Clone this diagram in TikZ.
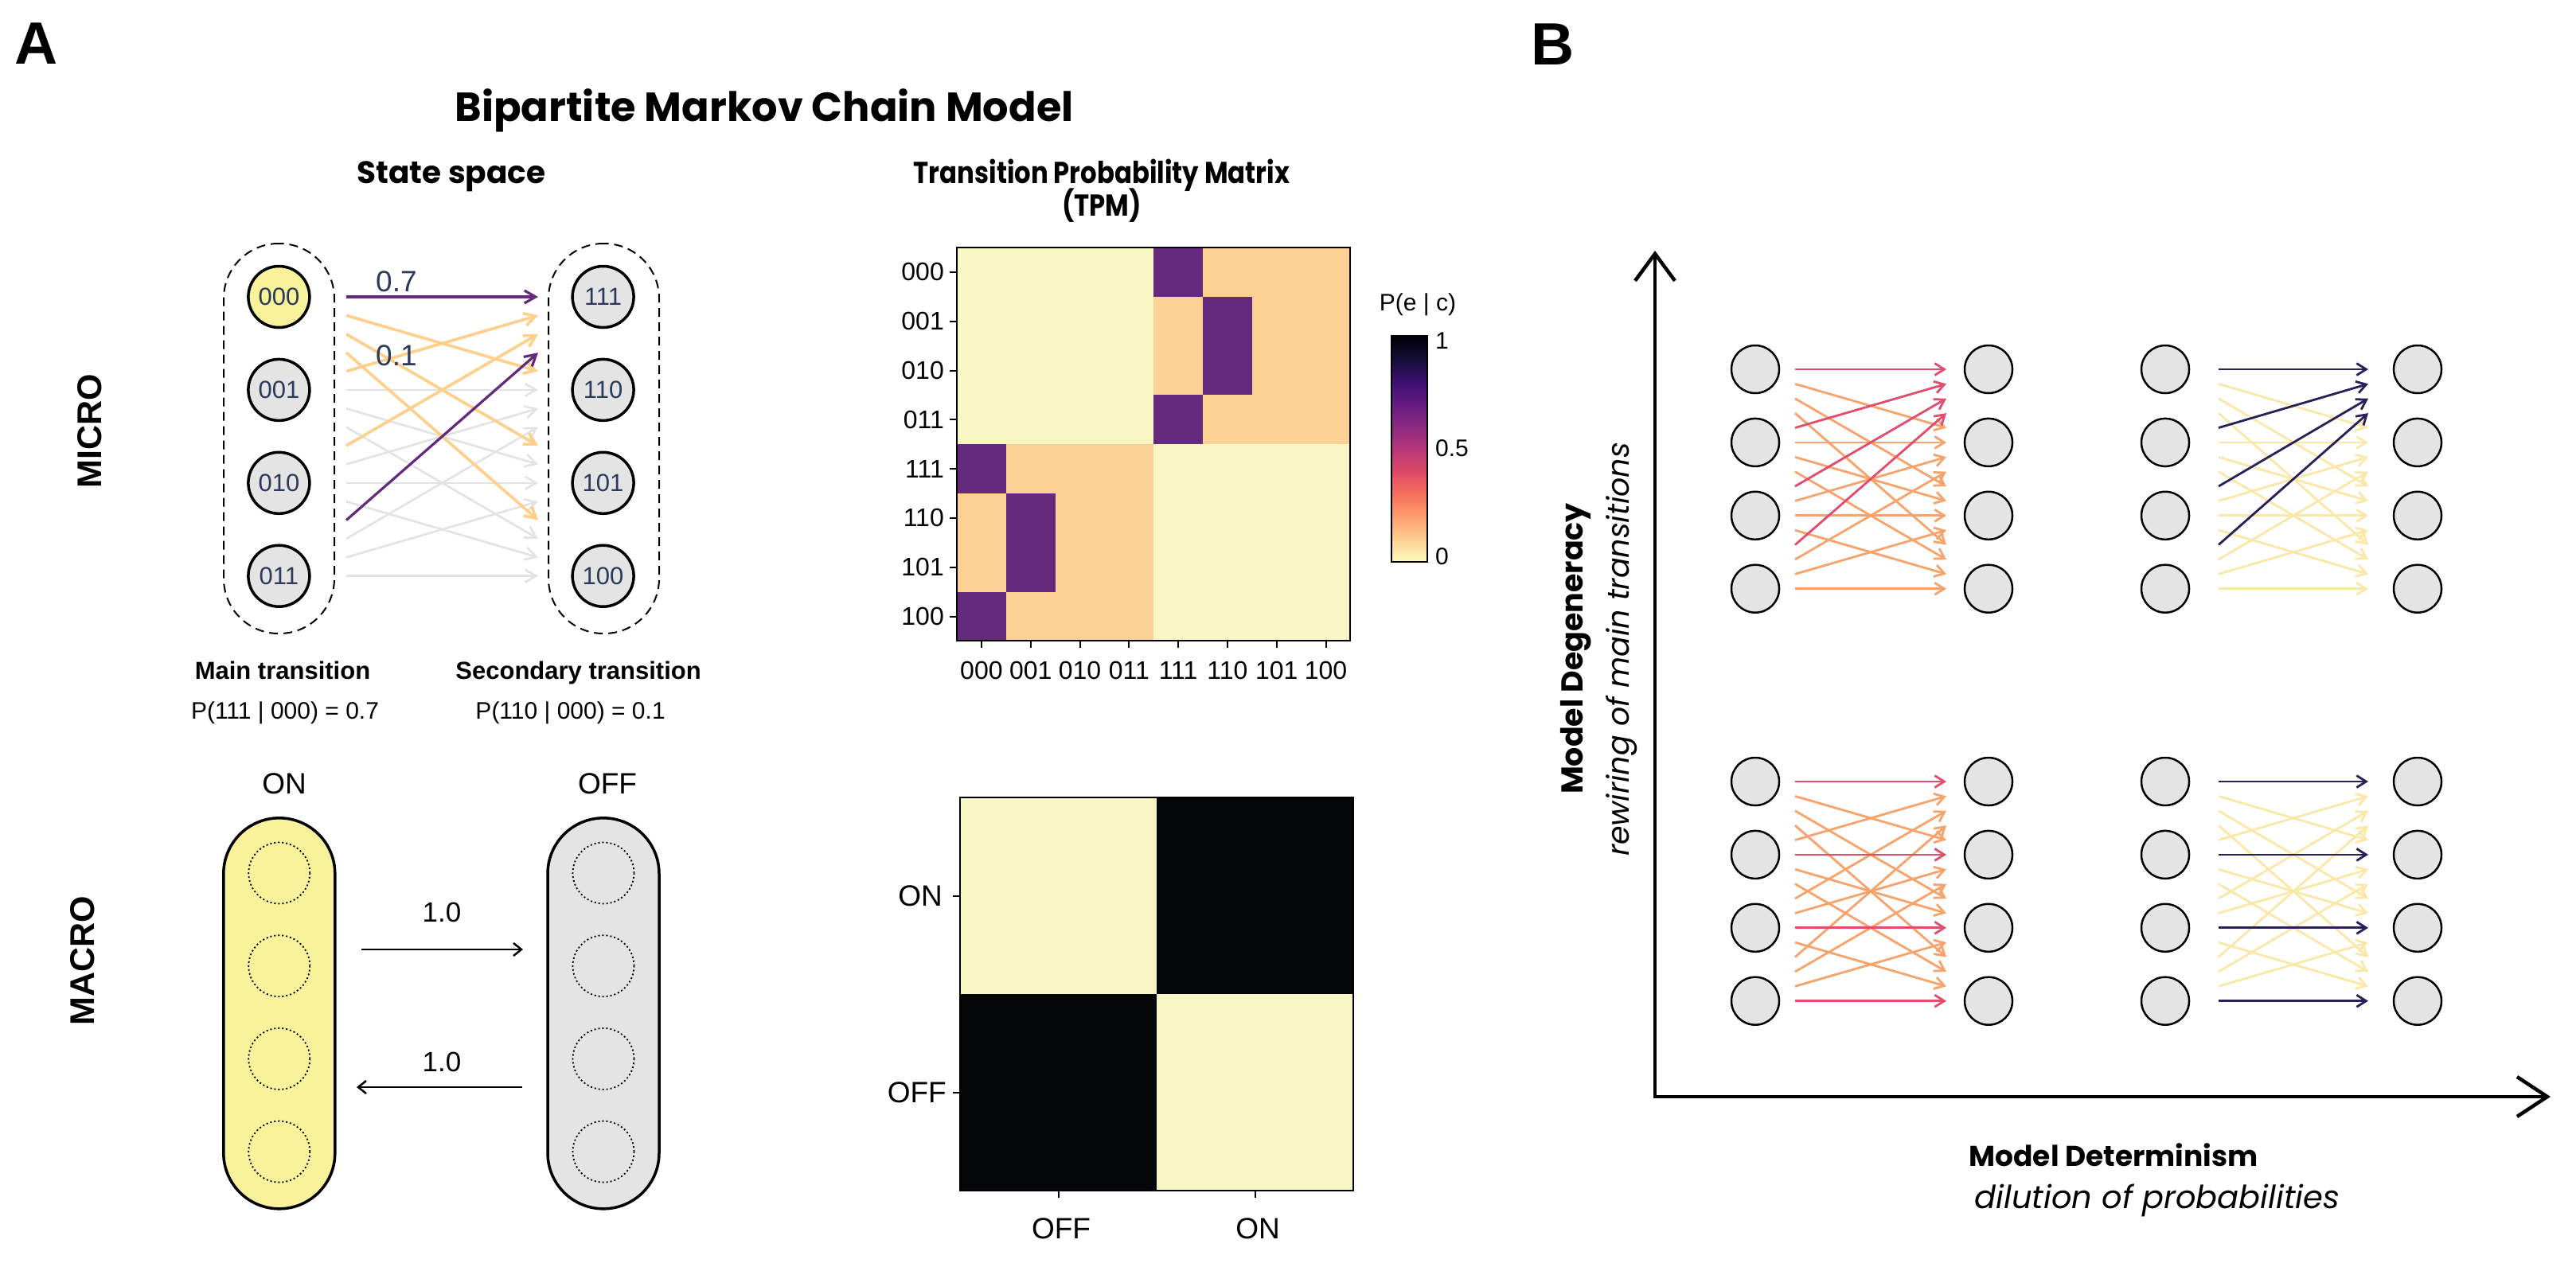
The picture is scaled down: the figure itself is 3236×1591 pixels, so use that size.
\documentclass[tikz,border=0pt]{standalone}
\usepackage{fontspec}
\setmainfont{Liberation Sans}
\newfontfamily\pop{Poppins}
\usetikzlibrary{arrows.meta}
\newcommand\fsz[1]{\fontsize{#1}{#1}\selectfont}
\definecolor{nodegrey}{HTML}{E4E4E4}
\definecolor{onyellow}{HTML}{F8F29A}
\definecolor{navytext}{HTML}{2B3A5A}
\definecolor{apurple}{HTML}{652A7B}
\definecolor{aorange}{HTML}{FFCF8C}
\definecolor{agrey}{HTML}{E3E3E3}
\definecolor{bred}{HTML}{E14D6C}
\definecolor{borange}{HTML}{F8A26C}
\definecolor{bnavy}{HTML}{2A1F58}
\definecolor{byellow}{HTML}{FBE8A8}
\definecolor{mzero}{HTML}{F8F7C3}
\definecolor{mpeach}{HTML}{FDD193}
\definecolor{mpurple}{HTML}{652A7B}
\definecolor{mblack}{HTML}{060709}
\definecolor{cm0}{HTML}{000004}
\definecolor{cm1}{HTML}{140E36}
\definecolor{cm2}{HTML}{3B0F70}
\definecolor{cm3}{HTML}{641A80}
\definecolor{cm4}{HTML}{8C2981}
\definecolor{cm5}{HTML}{B73779}
\definecolor{cm6}{HTML}{DE4968}
\definecolor{cm7}{HTML}{F7705C}
\definecolor{cm8}{HTML}{FE9F6D}
\definecolor{cm9}{HTML}{FECF92}
\definecolor{cm10}{HTML}{FCFDBF}
\begin{document}
\begin{tikzpicture}[x=1pt,y=-1pt,
  micronode/.style={circle,draw=black,line width=3.5pt,minimum size=77pt,inner sep=0pt,text=navytext,font=\fsz{31}},
  bnode/.style={circle,draw=black,line width=2.5pt,fill=nodegrey,minimum size=60pt,inner sep=0pt},
  dcapsule/.style={draw=black,line width=2pt,dash pattern=on 11pt off 7pt,rounded corners=69pt,minimum width=139pt,minimum height=490pt,inner sep=0pt},
  mcapsule/.style={draw=black,line width=3.5pt,rounded corners=70pt,minimum width=140pt,minimum height=491pt,inner sep=0pt},
  dotc/.style={circle,draw=black,line width=1.8pt,dash pattern=on 2pt off 3pt,minimum size=77pt,inner sep=0pt},
  aarrow/.style={line width=3.2pt,-{Straight Barb[length=14pt,width=16pt]}},
  barrow/.style={line width=2.8pt,-{Straight Barb[length=12pt,width=15pt]}},
  marrow/.style={line width=2.5pt,-{Straight Barb[length=10pt,width=16pt]}},
  tick/.style={line width=2pt},
  txt/.style={inner sep=0pt}
]
\useasboundingbox[fill=white] (0,0) rectangle (3236,1591);

% ---------- panel labels and titles ----------
\node[txt,anchor=base,font=\bfseries\fsz{75}] (labA) at (45.5,80.7) {A};
\node[txt,anchor=base,font=\bfseries\fsz{75}] (labB) at (1950.5,81) {B};
\node[txt,anchor=base,font=\pop\bfseries\fsz{51}] (title) at (960,152) {Bipartite Markov Chain Model};
\node[txt,anchor=base,font=\pop\bfseries\fsz{39}] (ssTitle) at (567,230) {State space};
\node[txt,anchor=base,font=\pop\bfseries\fsz{38}] (tpmTitle) at (1384,230) {\scalebox{0.85}[1]{Transition Probability Matrix}};
\node[txt,anchor=base,font=\pop\bfseries\fsz{38}] (tpmTitle2) at (1384,271) {\scalebox{0.85}[1]{(TPM)}};
\node[txt,rotate=90,font=\bfseries\fsz{43}] (micro) at (113,542) {MICRO};
\node[txt,rotate=90,font=\bfseries\fsz{43}] (macro) at (104,1207) {MACRO};

% ---------- micro state space ----------
\node[dcapsule] (capL) at (350.5,551) {};
\node[dcapsule] (capR) at (758.5,551) {};
\foreach \k/\lab/\fc in {0/000/onyellow,1/001/nodegrey,2/010/nodegrey,3/011/nodegrey}
  \node[micronode,fill=\fc] (L\lab) at (350.4,{373+116.9*\k}) {\lab};
\foreach \k/\lab in {0/111,1/110,2/101,3/100}
  \node[micronode,fill=nodegrey] (R\lab) at (757.6,{373+116.9*\k}) {\lab};
\foreach \s in {0,...,15}{
  \coordinate (as\s) at (435,{373+23.38*\s});
  \coordinate (ae\s) at (676,{373+23.38*\s});
}
\foreach \s/\e in {5/5,6/9,7/13,9/6,10/10,11/14,13/7,14/11,15/15}
  \draw[aarrow,agrey,line width=2.6pt] (as\s) -- (ae\e);
\foreach \s/\e in {1/4,2/8,3/12,4/1,8/2}
  \draw[aarrow,aorange,line width=3.6pt] (as\s) -- (ae\e);
\foreach \s/\e in {0/0,12/3}
  \draw[aarrow,apurple] (as\s) -- (ae\e);
\node[txt,anchor=base west,text=navytext,font=\fsz{37}] (p07) at (472,366) {0.7};
\node[txt,anchor=base west,text=navytext,font=\fsz{37}] (p01) at (472,459.4) {0.1};
\node[txt,anchor=base,font=\bfseries\fsz{31}] (mainT) at (355,853) {Main transition};
\node[txt,anchor=base,font=\fsz{30}] (mainP) at (358,903) {P(111 | 000) = 0.7};
\node[txt,anchor=base,font=\bfseries\fsz{31}] (secT) at (726.6,853) {Secondary transition};
\node[txt,anchor=base,font=\fsz{30}] (secP) at (716.6,903) {P(110 | 000) = 0.1};

% ---------- macro state space ----------
\node[mcapsule,fill=onyellow] (onCap) at (350.8,1273.3) {};
\node[mcapsule,fill=nodegrey] (offCap) at (758,1273.3) {};
\foreach \k in {0,...,3}{
  \node[dotc] (onD\k) at (350.8,{1097+116.7*\k}) {};
  \node[dotc] (offD\k) at (758,{1097+116.7*\k}) {};
}
\node[txt,anchor=base,font=\fsz{37}] (onLab) at (357,997) {ON};
\node[txt,anchor=base,font=\fsz{37}] (offLab) at (763,997) {OFF};
\coordinate (m1s) at (454,1193);
\coordinate (m1e) at (657,1193);
\coordinate (m2s) at (656,1366);
\coordinate (m2e) at (448,1366);
\draw[marrow] (m1s) -- (m1e);
\draw[marrow] (m2s) -- (m2e);
\node[txt,anchor=base,font=\fsz{35}] (w1) at (555,1158) {1.0};
\node[txt,anchor=base,font=\fsz{35}] (w2) at (555,1346) {1.0};

% ---------- micro TPM ----------
\fill[mzero] (1202,311) rectangle (1696.4,805.4);
\fill[mpeach] (1449.2,311) rectangle (1696.4,558.2);
\fill[mpeach] (1202,558.2) rectangle (1449.2,805.4);
\foreach \r/\c in {0/4,1/5,2/5,3/4,4/0,5/1,6/1,7/0}
  \fill[mpurple] ({1202+61.8*\c},{311+61.8*\r}) rectangle ++(61.8,61.8);
\draw[line width=2pt] (1202,311) rectangle (1696.4,805.4);
\foreach \k/\lab in {0/000,1/001,2/010,3/011,4/111,5/110,6/101,7/100}{
  \draw[tick] (1193,{341.9+61.8*\k}) -- (1202,{341.9+61.8*\k});
  \node[txt,anchor=east,font=\fsz{32}] (ty\k) at (1186,{341.9+61.8*\k}) {\lab};
  \draw[tick] ({1232.9+61.8*\k},805.4) -- ({1232.9+61.8*\k},814.4);
  \node[txt,anchor=base,font=\fsz{32}] (tx\k) at ({1232.9+61.8*\k},853) {\lab};
}
% colorbar
\foreach \k in {0,...,9}{
  \pgfmathtruncatemacro\kk{\k+1}
  \shade[top color=cm\k,bottom color=cm\kk] (1748,{422+28.4*\k}) rectangle (1793,{422.6+28.4*(\k+1)});
}
\draw[line width=2.5pt] (1748,422) rectangle (1793,706);
\node[txt,anchor=base west,font=\fsz{30}] (cb1) at (1803,438) {1};
\node[txt,anchor=base west,font=\fsz{30}] (cb05) at (1803,573.6) {0.5};
\node[txt,anchor=base west,font=\fsz{30}] (cb0) at (1803,709) {0};
\node[txt,anchor=base,font=\fsz{30}] (cbT) at (1781,390.5) {P(e | c)};

% ---------- macro TPM ----------
\fill[mzero] (1206,1002) rectangle (1700,1496);
\fill[mblack] (1453,1002) rectangle (1700,1249);
\fill[mblack] (1206,1249) rectangle (1453,1496);
\draw[line width=1.5pt] (1206,1002) rectangle (1700,1496);
\draw[tick] (1197,1125.5) -- (1206,1125.5);
\draw[tick] (1197,1372.5) -- (1206,1372.5);
\draw[tick] (1329.5,1496) -- (1329.5,1505);
\draw[tick] (1576.5,1496) -- (1576.5,1505);
\node[txt,anchor=east,font=\fsz{37}] (myON) at (1184,1125.5) {ON};
\node[txt,anchor=east,font=\fsz{37}] (myOFF) at (1189,1372.5) {OFF};
\node[txt,anchor=base,font=\fsz{37}] (mxOFF) at (1333,1556) {OFF};
\node[txt,anchor=base,font=\fsz{37}] (mxON) at (1580,1556) {ON};

% ---------- panel B axes ----------
\coordinate (ytip) at (2079,315);
\coordinate (orig) at (2079,1378);
\coordinate (xtip) at (3204,1378);
\draw[line width=4.5pt,{Straight Barb[length=34pt,width=50pt]}-{Straight Barb[length=38pt,width=50pt]}] (ytip) -- (orig) -- (xtip);
\node[txt,rotate=90,anchor=base,font=\pop\bfseries\fsz{38}] (degT) at (1988,815) {Model Degeneracy};
\node[txt,rotate=90,anchor=base,font=\pop\itshape\fsz{38}] (degS) at (2046,816) {rewiring of main transitions};
\node[txt,anchor=base,font=\pop\bfseries\fsz{36}] (detT) at (2655,1465) {Model Determinism};
\node[txt,anchor=base,font=\pop\itshape\fsz{40}] (detS) at (2710,1518) {dilution of probabilities};

% ---------- panel B groups ----------
\foreach \g/\xl/\xr/\xs/\xe/\yo/\mc/\sc/\dg in {
  tl/2205/2498/2255/2445/464/bred/borange/1,
  tr/2720/3037/2787/2975/464/bnavy/byellow/1,
  bl/2205/2498/2255/2445/982/bred/borange/0,
  br/2720/3037/2787/2975/982/bnavy/byellow/0}{
  \foreach \k in {0,...,3}{
    \node[bnode] (\g L\k) at (\xl,{\yo+91.9*\k}) {};
    \node[bnode] (\g R\k) at (\xr,{\yo+91.9*\k}) {};
  }
  \foreach \s in {0,...,15}{
    \coordinate (\g S\s) at (\xs,{\yo+18.38*\s});
    \coordinate (\g E\s) at (\xe,{\yo+18.38*\s});
  }
  \foreach \i in {0,...,3}{
    \foreach \j in {0,...,3}{
      \pgfmathtruncatemacro\ss{4*\i+\j}
      \pgfmathtruncatemacro\ee{4*\j+\i}
      \pgfmathtruncatemacro\jm{\dg==1 ? 0 : \i}
      \ifnum\j=\jm\relax\else
        \draw[barrow,\sc] (\g S\ss) -- (\g E\ee);
      \fi
    }
  }
  \foreach \i in {0,...,3}{
    \pgfmathtruncatemacro\jm{\dg==1 ? 0 : \i}
    \pgfmathtruncatemacro\ss{4*\i+\jm}
    \pgfmathtruncatemacro\ee{4*\jm+\i}
    \draw[barrow,\mc] (\g S\ss) -- (\g E\ee);
  }
}
\end{tikzpicture}
\end{document}
